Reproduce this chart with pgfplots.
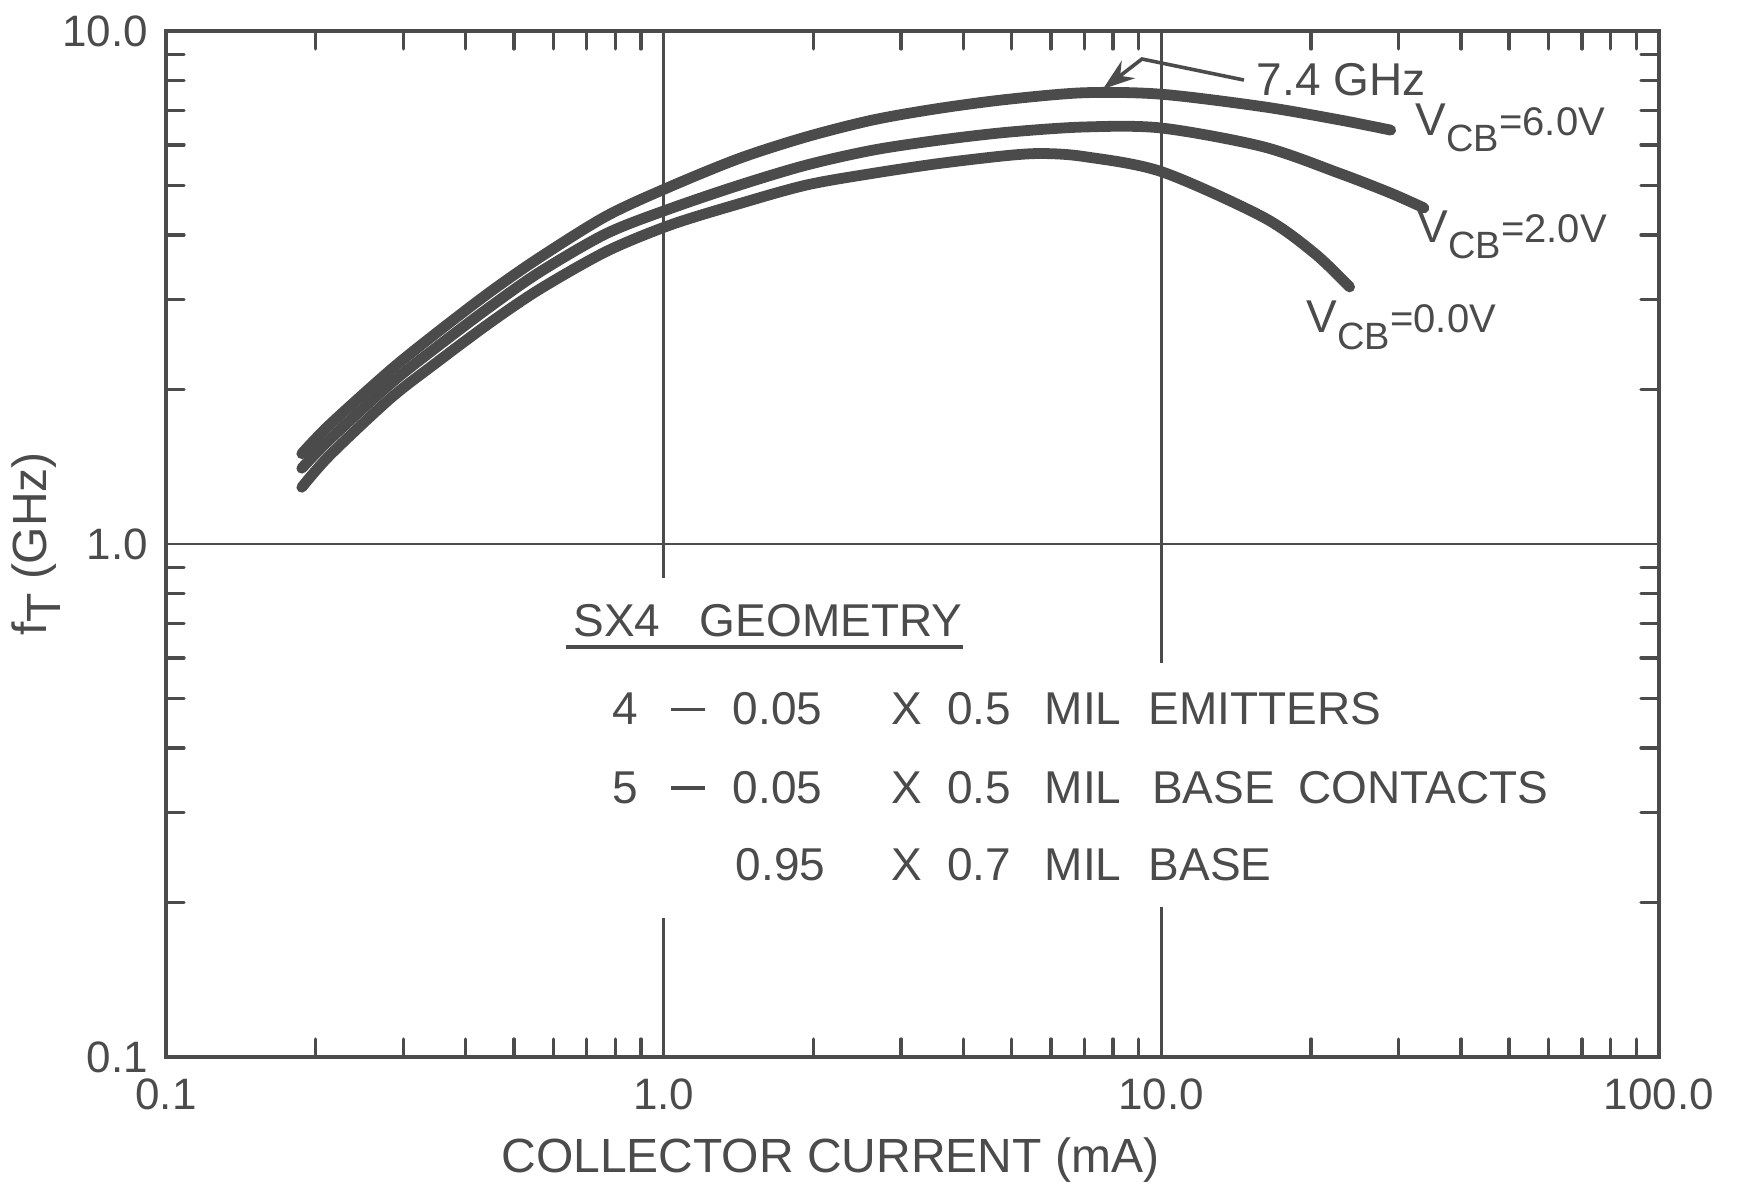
\documentclass[border=0pt]{standalone}
\usepackage{fontspec}
\setmainfont{Liberation Sans}
\usepackage{pgfplots}
\pgfplotsset{compat=1.18}
\usetikzlibrary{arrows.meta}
\definecolor{ink}{HTML}{4B4B4B}

\pgfplotstableread{
x y
0.1875 1.50
0.2135 1.71
0.282 2.18
0.348 2.57
0.448 3.10
0.564 3.62
0.768 4.36
1.034 4.98
1.423 5.65
1.938 6.22
2.637 6.71
3.59 7.07
4.92 7.36
7.01 7.58
10.0 7.53
16.0 7.12
22.8 6.71
28.9 6.41
}\vsix
\pgfplotstableread{
x y
0.1875 1.405
0.2135 1.60
0.282 2.05
0.348 2.41
0.448 2.90
0.564 3.39
0.768 4.03
1.034 4.51
1.423 5.01
1.938 5.48
2.637 5.86
3.59 6.13
4.92 6.35
7.01 6.50
10.0 6.47
16.0 5.95
22.8 5.28
28.9 4.83
33.7 4.52
}\vtwo
\pgfplotstableread{
x y
0.1875 1.29
0.2135 1.49
0.282 1.92
0.348 2.25
0.448 2.70
0.564 3.14
0.768 3.72
1.034 4.19
1.423 4.61
1.938 5.01
2.637 5.28
3.59 5.52
4.92 5.72
5.8 5.77
7.01 5.69
10.0 5.32
16.0 4.34
20.3 3.69
23.9 3.17
}\vzero

\newcommand{\vcb}[1]{{\fontsize{11.5}{12}\selectfont V}\raisebox{-4.2pt}{\fontsize{9.5}{10}\selectfont CB}{\fontsize{10}{12}\selectfont =#1}}
\newcommand{\dash}{\rule[3.4pt]{8.5pt}{0.9pt}}

\begin{document}
\begin{tikzpicture}[font=\fontsize{11.5}{13}\selectfont]
\begin{axis}[
  scale only axis, width=373.25pt, height=256.5pt,
  xmode=log, ymode=log, xmin=0.1, xmax=100, ymin=0.1, ymax=10,
  axis line style={ink, line width=0.85pt},
  xtick={0.1,1,10,100}, xticklabels={0.1,1.0,10.0,100.0},
  ytick={0.1,1,10}, yticklabels={0.1,1.0,10.0},
  minor xtick={0.2,0.3,0.4,0.5,0.6,0.7,0.8,0.9,2,3,4,5,6,7,8,9,20,30,40,50,60,70,80,90},
  minor ytick={0.2,0.3,0.4,0.5,0.6,0.7,0.8,0.9,2,3,4,5,6,7,8,9},
  major tick length=0pt, minor tick length=4.5pt,
  tick style={ink, line width=0.85pt, line cap=round},
  tick align=inside,
  ticklabel style={font=\fontsize{11}{12}\selectfont, text=ink},
  xticklabel style={yshift=-2pt},
  yticklabel style={xshift=-1pt},
  clip=false,
]
\coordinate (SW) at (rel axis cs:0,0);
\coordinate (NE) at (rel axis cs:1,1);
% grid lines with gaps
\draw[ink, line width=0.65pt] (axis cs:0.1,1) -- (axis cs:100,1);
\draw[ink, line width=0.65pt] (axis cs:1,10) -- (axis cs:1,0.858);
\draw[ink, line width=0.65pt] (axis cs:1,0.1866) -- (axis cs:1,0.1);
\draw[ink, line width=0.65pt] (axis cs:10,10) -- (axis cs:10,0.586);
\draw[ink, line width=0.65pt] (axis cs:10,0.196) -- (axis cs:10,0.1);

\addplot[ink, line width=2.7pt, line cap=round, smooth] table[x=x,y=y] {\vsix};
\addplot[ink, line width=2.7pt, line cap=round, smooth] table[x=x,y=y] {\vtwo};
\addplot[ink, line width=2.7pt, line cap=round, smooth] table[x=x,y=y] {\vzero};

% curve labels
\node[text=ink, anchor=base west, inner sep=0pt] at (rel axis cs:0.730,0.9376) {7.4 GHz};
\draw[ink, line width=0.9pt, -{Stealth[length=8pt,width=5.5pt]}] (rel axis cs:0.7220,0.9522) -- (rel axis cs:0.6537,0.9727) -- (rel axis cs:0.6276,0.9435);
\node[text=ink, anchor=base west, inner sep=0pt] at (rel axis cs:0.8366,0.8986) {\vcb{6.0V}};
\node[text=ink, anchor=base west, inner sep=0pt] at (rel axis cs:0.8379,0.7943) {\vcb{2.0V}};
\node[text=ink, anchor=base west, inner sep=0pt] at (rel axis cs:0.7636,0.7057) {\vcb{0.0V}};

% text block
\begin{scope}[every node/.style={text=ink, anchor=base west, inner sep=0pt}]
\node at (rel axis cs:0.2723,0.4103) {SX4};
\node at (rel axis cs:0.3570,0.4103) {GEOMETRY};
\draw[ink, line width=0.9pt] (rel axis cs:0.2679,0.3996) -- (rel axis cs:0.5338,0.3996);
\node at (rel axis cs:0.2985,0.3236) {4};
\node at (rel axis cs:0.3376,0.3236) {\dash};
\node at (rel axis cs:0.3791,0.3236) {0.05};
\node at (rel axis cs:0.4856,0.3236) {X};
\node at (rel axis cs:0.5228,0.3236) {0.5};
\node at (rel axis cs:0.5881,0.3236) {MIL};
\node at (rel axis cs:0.6577,0.3236) {EMITTERS};
\node at (rel axis cs:0.2985,0.2473) {5};
\node at (rel axis cs:0.3376,0.2473) {\dash};
\node at (rel axis cs:0.3791,0.2473) {0.05};
\node at (rel axis cs:0.4856,0.2473) {X};
\node at (rel axis cs:0.5228,0.2473) {0.5};
\node at (rel axis cs:0.5881,0.2473) {MIL};
\node at (rel axis cs:0.6600,0.2473) {BASE};
\node at (rel axis cs:0.7582,0.2473) {CONTACTS};
\node at (rel axis cs:0.3811,0.1725) {0.95};
\node at (rel axis cs:0.4856,0.1725) {X};
\node at (rel axis cs:0.5228,0.1725) {0.7};
\node at (rel axis cs:0.5881,0.1725) {MIL};
\node at (rel axis cs:0.6577,0.1725) {BASE};
\end{scope}

% axis labels
\node[text=ink, rotate=90, anchor=center, font=\fontsize{12}{13}\selectfont] at ([xshift=-32.5pt]rel axis cs:0,0.5) {f\raisebox{-0.3em}{T} (GHz)};
\node[text=ink, anchor=center, font=\fontsize{12}{13}\selectfont] at ([yshift=-25.75pt]rel axis cs:0.445,0) {COLLECTOR CURRENT (mA)};
\end{axis}
\pgfresetboundingbox
\path[use as bounding box] ([shift={(-41.5pt,-33pt)}]SW) rectangle ([shift={(21pt,7.75pt)}]NE);
\end{tikzpicture}
\end{document}
